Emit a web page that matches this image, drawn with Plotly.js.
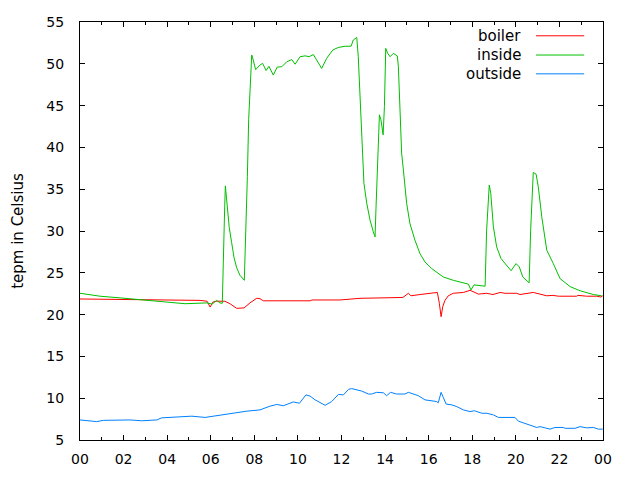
<!DOCTYPE html>
<html>
<head>
<meta charset="utf-8">
<script src="https://cdn.plot.ly/plotly-3.0.1.min.js"></script>
<style>html,body{margin:0;padding:0;background:#fff}#chart{width:640px;height:480px}</style>
</head>
<body>
<div id="chart"></div>
<script>
// time of day in hours
const boilerHours = [0,0.92,1.84,3.21,4.59,5.51,5.83,5.97,6.1,6.27,6.65,6.88,7.19,7.53,7.80,8.11,8.26,8.41,10.56,10.65,11.93,12.85,13.86,14.82,15.07,15.19,15.60,16.06,16.40,16.49,16.57,16.65,16.75,16.90,17.13,17.59,17.90,18.08,18.28,18.66,18.95,19.28,19.50,20.04,20.19,20.80,21.11,21.42,21.71,21.95,22.79,22.85,23.25,23.71,23.90,23.99];
const boilerTemp  = [21.87,21.85,21.8,21.8,21.75,21.7,21.6,20.9,21.5,21.6,21.6,21.3,20.75,20.8,21.4,21.95,21.9,21.65,21.65,21.75,21.75,21.95,22.0,22.05,22.55,22.25,22.4,22.55,22.65,21.35,19.75,21.0,21.7,22.25,22.55,22.65,22.9,22.7,22.45,22.55,22.4,22.65,22.55,22.55,22.4,22.65,22.45,22.25,22.3,22.2,22.2,22.3,22.2,22.2,22.1,22.25];

const insideHours = [0,0.46,0.92,1.84,3.21,3.99,4.82,5.83,6.06,6.27,6.42,6.53,6.58,6.64,6.67,6.70,6.76,6.85,6.96,7.07,7.19,7.34,7.54,7.57,7.62,7.68,7.74,7.80,7.85,7.88,7.95,8.06,8.26,8.38,8.54,8.67,8.87,9.05,9.26,9.49,9.72,9.87,10.10,10.33,10.52,10.71,11.09,11.32,11.60,11.85,12.16,12.44,12.54,12.70,12.77,12.88,12.97,13.03,13.16,13.31,13.46,13.54,13.58,13.66,13.74,13.81,13.86,13.91,13.97,14.03,14.12,14.23,14.38,14.56,14.61,14.69,14.76,14.84,14.99,15.14,15.37,15.60,15.83,16.14,16.37,16.67,17.13,17.67,17.82,17.94,18.08,18.59,18.66,18.78,18.85,18.97,19.12,19.32,19.58,19.78,20.01,20.16,20.32,20.61,20.68,20.80,20.93,21.03,21.19,21.42,21.72,22.03,22.49,22.95,23.56,23.94];
const insideTemp  = [22.55,22.4,22.2,22.0,21.7,21.5,21.3,21.4,21.25,21.7,21.4,21.35,28.3,32.9,35.4,34.5,33.3,30.4,28.6,26.8,25.6,24.7,24.1,26.5,31.7,36.5,43.3,46.7,49.5,51.05,50.45,49.3,49.85,50.05,49.2,49.7,48.65,49.6,49.65,50.25,50.5,49.95,50.85,50.95,50.85,51.1,49.45,50.65,51.65,51.95,52.1,52.1,52.85,53.15,50.85,44.9,40.1,35.7,33.3,31.3,29.9,29.3,32.5,38.5,43.9,43.3,42.5,41.5,44.9,51.85,51.25,50.85,51.25,50.95,49.65,44.1,39.3,37.3,33.3,30.9,28.9,27.3,26.3,25.5,25.1,24.5,24.1,23.8,23.65,22.95,23.55,23.4,30.1,35.5,34.5,30.5,28.1,26.7,25.9,25.25,26.1,25.7,24.5,23.8,30.1,37.0,36.8,35.3,31.7,27.7,26.1,24.3,23.35,22.85,22.4,22.25];

const outsideHours = [0,0.54,0.77,1.07,2.29,2.83,3.52,3.75,4.59,5.13,5.74,6.27,7.04,7.65,8.26,8.72,9.03,9.33,9.79,10.07,10.37,10.56,10.79,11.25,11.55,11.86,12.09,12.32,12.47,12.62,12.93,13.23,13.38,13.61,13.92,14.07,14.25,14.53,14.91,15.07,15.30,15.53,15.83,16.06,16.37,16.44,16.57,16.67,16.80,17.06,17.29,17.59,17.90,18.10,18.44,18.67,18.97,19.20,19.96,20.12,20.42,20.65,20.96,21.11,21.57,21.80,22.18,22.26,22.72,22.95,23.25,23.56,23.79,23.99];
const outsideTemp  = [7.4,7.3,7.2,7.35,7.4,7.3,7.4,7.65,7.8,7.85,7.7,7.9,8.25,8.45,8.6,9.05,9.25,9.1,9.55,9.4,10.4,10.25,9.8,9.15,9.6,10.45,10.4,11.05,11.15,11.05,10.85,10.5,10.5,10.7,10.65,10.3,10.7,10.5,10.5,10.7,10.5,10.3,9.8,9.7,9.6,9.45,10.7,10.1,9.3,9.2,9.0,8.6,8.4,8.5,8.2,8.2,8.0,7.7,7.7,7.25,7.0,6.85,6.5,6.6,6.3,6.5,6.5,6.4,6.4,6.6,6.45,6.5,6.3,6.3];

const seriesNames = ["boiler","inside","outside"];
const seriesColors = ["#ff0000","#00c000","#0080ff"];
const xTickVals = [0,2,4,6,8,10,12,14,16,18,20,22,24];
const xTickText = ["00","02","04","06","08","10","12","14","16","18","20","22","00"];
const yTickVals = [5,10,15,20,25,30,35,40,45,50,55];

const xs = [boilerHours, insideHours, outsideHours];
const ys = [boilerTemp, insideTemp, outsideTemp];
const traces = seriesNames.map((n,i)=>({
  type:'scatter', mode:'lines', name:n, x:xs[i], y:ys[i],
  line:{color:seriesColors[i], width:1}, showlegend:false
}));

const font = {family:'DejaVu Sans, sans-serif', size:14, color:'#000'};
const legendFont = {family:'DejaVu Sans, sans-serif', size:15, color:'#000'};
const legendY = [0.967,0.921,0.876];
const annotations = seriesNames.map((n,i)=>({
  xref:'paper', yref:'paper', x:0.847, y:legendY[i], text:n, showarrow:false,
  xanchor:'right', yanchor:'middle', font:legendFont
}));
const shapes = seriesNames.map((n,i)=>({
  type:'line', xref:'paper', yref:'paper', x0:0.872, x1:0.964, y0:legendY[i], y1:legendY[i],
  line:{color:seriesColors[i], width:1}
}));

const layout = {
  width:640, height:480,
  margin:{l:80, r:37, t:22, b:40},
  paper_bgcolor:'#fff', plot_bgcolor:'#fff',
  font:font,
  showlegend:false,
  xaxis:{
    range:[0,24], tickvals:xTickVals, ticktext:xTickText,
    ticks:'inside', ticklen:5, tickcolor:'#000', showline:true, linecolor:'#000', linewidth:1,
    mirror:'ticks', showgrid:false, zeroline:false, ticklabelstandoff:6,
    minor:{dtick:1, tick0:0, ticks:'inside', ticklen:3, tickcolor:'#000', showgrid:false},
    tickfont:font
  },
  yaxis:{
    range:[5,55], tickvals:yTickVals,
    ticks:'inside', ticklen:5, tickcolor:'#000', showline:true, linecolor:'#000', linewidth:1,
    mirror:'ticks', showgrid:false, zeroline:false, ticklabelstandoff:12,
    title:{text:'tepm in Celsius', font:legendFont, standoff:19},
    tickfont:font
  },
  annotations:annotations,
  shapes:shapes
};
Plotly.newPlot('chart', traces, layout, {displayModeBar:false, staticPlot:true});
</script>
</body>
</html>
